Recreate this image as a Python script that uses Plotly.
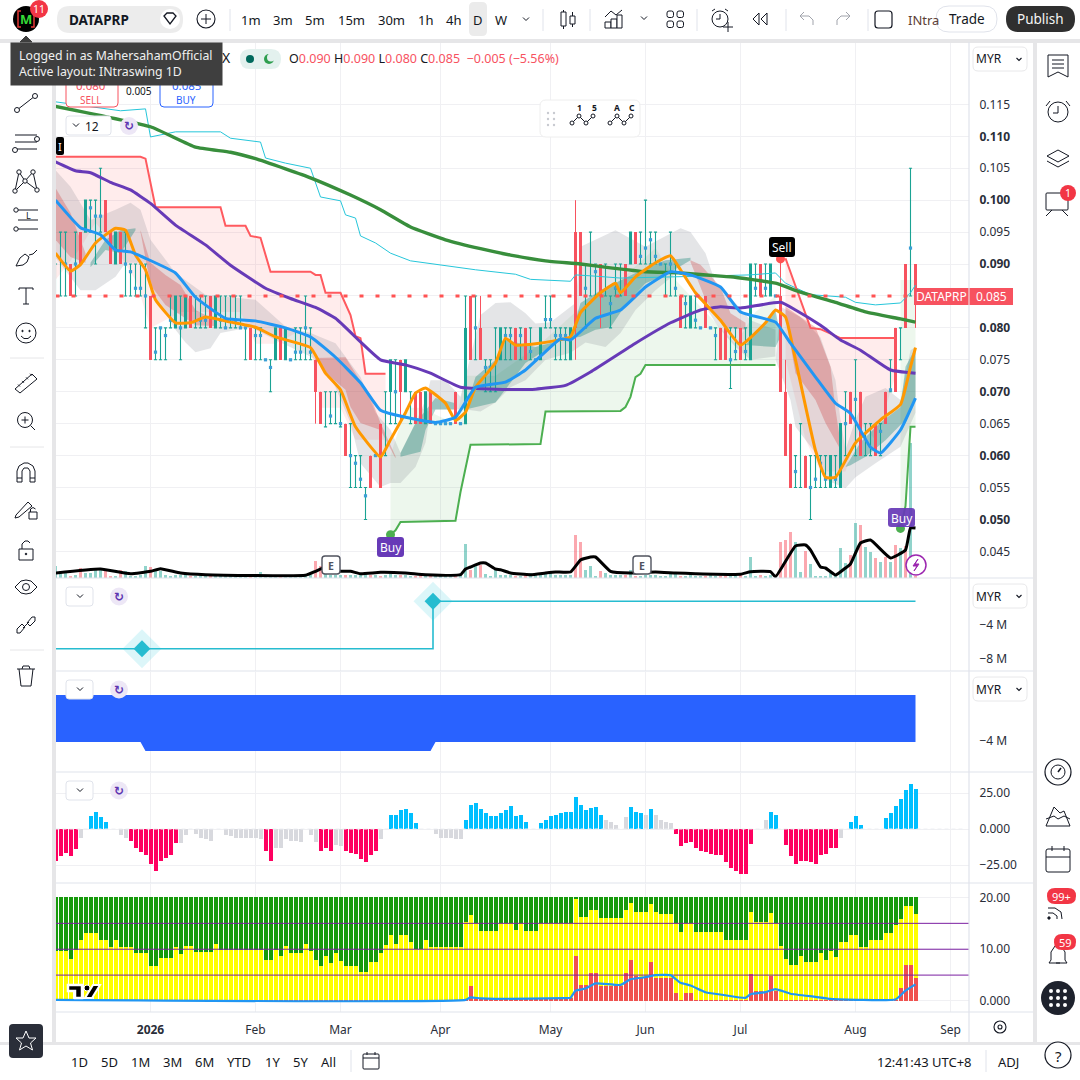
import plotly.graph_objects as go

# ---------- DATA (prices in 1/10000 MYR for the bars) ----------
bar_high = [900,950,950,900,950,950,1000,1000,1000,1050,1000,950,950,950,950,900,900,900,900,850,
800,800,800,850,850,850,850,850,850,850,850,850,850,850,850,850,850,850,800,800,
800,800,750,750,800,800,800,750,800,800,850,800,750,700,700,700,700,700,650,650,
600,600,550,600,600,650,700,750,750,750,750,700,700,700,700,700,650,650,650,650,
700,650,850,850,850,850,750,750,800,800,800,800,800,800,800,800,750,800,850,850,
800,800,800,800,1000,950,900,950,900,900,900,850,900,900,900,950,950,950,1000,950,
950,900,900,950,900,850,850,850,850,800,850,800,800,800,800,800,800,800,800,900,
900,900,900,900,850,915,750,650,600,650,600,600,600,600,600,600,600,650,700,700,
750,700,650,650,650,650,700,750,800,800,900,1050,900]
bar_low = [850,850,850,850,850,900,950,950,900,950,950,900,900,900,850,850,850,850,800,750,
750,750,750,800,800,750,800,800,800,800,800,800,800,800,800,800,800,800,750,750,
750,750,750,700,750,750,750,750,750,750,750,750,650,650,645,650,650,645,600,550,
550,550,500,550,600,550,600,650,650,650,700,650,650,650,650,650,650,650,650,650,
650,650,650,750,750,750,700,700,700,750,750,750,750,750,750,750,750,750,800,800,
750,750,750,750,750,850,800,850,850,800,850,800,850,850,850,900,900,900,900,900,
900,900,850,850,850,800,800,800,800,800,800,800,750,750,750,705,750,750,750,750,
850,850,850,850,850,700,600,550,550,550,550,500,550,550,550,550,550,550,600,650,
600,600,600,600,600,600,650,700,700,750,800,850,800]
N = None
bar_open = [N,N,900,900,900,950,950,988,975,975,1000,950,900,950,900,888,862,862,850,850,
762,800,788,812,800,800,800,850,N,812,812,850,800,812,800,N,812,800,800,800,
788,788,750,738,750,800,750,750,762,762,800,762,750,700,N,662,N,650,650,600,
588,563,537,600,600,650,N,700,700,750,700,N,700,700,650,700,650,650,650,650,
700,650,650,850,800,800,738,738,N,750,788,788,800,788,800,763,750,750,813,813,
788,788,788,750,950,950,862,N,888,900,N,838,862,N,900,900,950,912,925,938,
912,900,N,900,862,850,838,800,812,800,850,800,788,800,800,750,763,800,763,750,
862,900,862,850,850,850,700,650,575,N,600,550,563,588,563,550,563,550,650,700,
688,700,N,N,650,638,700,703,800,N,900,925,900]
bar_close = [N,N,900,850,900,900,1000,988,975,975,950,900,950,900,900,888,862,862,850,750,
762,800,788,812,850,800,850,800,N,812,812,800,850,812,800,N,812,800,800,750,
788,788,750,738,800,750,800,750,762,762,800,762,700,650,N,662,N,650,600,600,
588,563,537,550,600,550,N,750,700,700,750,N,650,650,700,650,650,650,650,650,
650,650,800,750,800,750,738,738,N,800,788,788,750,788,750,763,750,800,813,813,
788,788,788,800,800,850,862,N,888,850,N,838,862,N,850,950,900,912,925,938,
912,900,N,900,862,800,838,850,812,800,800,800,788,750,750,750,763,750,763,900,
862,850,862,900,850,700,600,550,575,N,550,550,563,588,563,600,563,650,650,650,
688,600,N,N,600,638,650,703,700,N,800,925,850]
volume = [12,7,5,2,3,10,5,5,8,10,7,2,2,8,7,2,2,3,12,11,9,7,3,2,3,3,3,2,2,2,2,2,2,2,2,2,2,2,3,2,
2,6,2,3,2,2,2,3,2,2,2,3,17,12,7,3,3,3,3,3,3,3,4,3,3,2,3,4,3,3,3,2,2,3,2,2,2,2,2,2,
2,2,34,8,12,13,4,2,8,3,3,3,2,2,3,5,3,3,5,5,3,3,3,3,43,36,8,12,2,7,5,3,3,3,3,8,2,2,3,3,
3,2,2,5,5,2,2,3,2,2,2,3,2,2,2,2,3,3,2,21,2,3,2,3,2,36,38,46,36,6,27,14,2,2,2,5,3,30,15,23,
55,53,31,26,20,16,21,16,33,30,32,135,2]
vol_ma_bar = [0,9,15,19,21,25,30,50,52,54,57,59,61,65,70,74,81,82,83,85,86,88,89,91,95,98,100,103,105,107,108,111,115,120,124,128,137,139,143,144,148,150,151,153,154,156,158,159,161,163,167,170,171,172]
vol_ma = [5,9,4.3,6.7,9.3,5,3.3,2.7,6.7,11,6.7,6.7,4.3,5.7,5,3.3,3.3,9,11,15,15,9,8.3,5,3.3,5,6,6,18,21,21,6.7,5,6,5,4.3,3.7,6.3,6.3,1.3,32,33,28,11,10,3,10,14,35,38,20,28,50,50]

ma_long_bar = [0,19,28,35,40,46,51,59,65,71,78,85,91,98,105,111,118,125,133,135,144,149,156,162,169,172]
ma_long = [.1147,.1115,.1083,.1075,.1065,.1049,.1035,.1008,.0985,.0958,.0938,.0924,.0914,.0905,.0900,.0894,.0888,.0886,.0881,.0880,.0870,.0856,.0840,.0825,.0814,.0809]
ma_mid_bar = [0,4,7,11,15,19,24,30,35,42,47,52,56,61,65,70,75,81,88,96,102,107,116,123,129,133,137,145,148,153,157,161,167,172]
ma_mid = [.1060,.1046,.1043,.1028,.1016,.0995,.0961,.0930,.0898,.0862,.0846,.0832,.0815,.0778,.0750,.0742,.0729,.0707,.0704,.0704,.0710,.0731,.0776,.0808,.0828,.0833,.0831,.0840,.0828,.0804,.0781,.0765,.0734,.0729]
ma_short_bar = [0,5,9,12,15,18,24,28,34,40,46,51,56,61,65,70,76,80,84,90,94,101,103,108,113,118,123,127,133,137,144,147,152,156,159,163,165,169,172]
ma_short = [.1000,.0957,.0946,.0922,.0919,.0909,.0886,.0848,.0815,.0811,.0800,.0786,.0754,.0714,.0671,.0660,.0652,.0660,.0707,.0715,.0734,.0783,.0781,.0815,.0828,.0864,.0888,.0883,.0864,.0825,.0809,.0776,.0723,.0682,.0666,.0613,.0604,.0640,.0690]
ma_fast_bar = [0,3,5,8,12,14,16,18,20,24,27,30,35,40,44,51,54,57,60,65,67,70,72,74,78,80,82,84,88,90,92,96,100,103,105,109,112,113,116,120,123,125,128,133,137,142,144,146,148,152,154,156,160,165,169,171,172]
ma_fast = [.0917,.0889,.0899,.0933,.0956,.0953,.0914,.0891,.0844,.0808,.0808,.0817,.0809,.0801,.0786,.0769,.0729,.0703,.0645,.0598,.0625,.0667,.0698,.0706,.0682,.0655,.0668,.0707,.0745,.0784,.0773,.0775,.0780,.0786,.0824,.0855,.0870,.0855,.0880,.0902,.0913,.0891,.0855,.0812,.0773,.0808,.0828,.0817,.0750,.0608,.0566,.0566,.0620,.0656,.0680,.0739,.0769]
thin_bar = [0,13,18,19,24,33,35,41,42,46,51,53,57,58,60,61,64,67,71,78,84,92,95,103,104,108,113,124,139,144,146,151,158,160,164,169,171,172]
thin = [.1154,.1140,.1143,.1099,.1107,.1107,.1097,.1091,.1066,.1058,.1050,.1005,.0999,.0977,.0972,.0944,.0933,.0917,.0905,.0897,.0891,.0884,.0876,.0873,.0883,.0881,.0878,.0880,.0883,.0886,.0870,.0852,.0848,.0840,.0836,.0839,.0855,.0867]

stop_a_bar = [0,17,18,20,33,34,38,39,41,43,51,52,53,54,57,59,60,61,62,66]
stop_a = [.1068,.1068,.1065,.0989,.0989,.0960,.0960,.0944,.0941,.0888,.0888,.0883,.0883,.0855,.0855,.0820,.0787,.0784,.0728,.0728]
stop_a_base_bar = [0,5,8,12,16,19,25,37,40,44,50,51,53,57,60,66]
stop_a_base = [.0875,.0925,.0965,.0925,.0875,.0800,.0825,.0825,.0775,.0775,.0800,.0775,.0675,.0675,.0625,.0625]
stop_b_bar = [146,151,153,157,168]
stop_b = [.0909,.0800,.0798,.0784,.0784]
stop_b_base_bar = [146,150,153,158,161,164,168]
stop_b_base = [.0750,.0625,.0575,.0575,.0650,.0625,.0725]
trail_a_bar = [67,68,69,80,81,83,97,98,113,114,115,116,117,118,144]
trail_a = [.0476,.0483,.0496,.0498,.0543,.0617,.0618,.0669,.0670,.0676,.0692,.0723,.0728,.0742,.0742]
trail_a_top_bar = [67,70,73,80,82,88,97,104,109,113,120,124,130,136,140,144]
trail_a_top = [.0600,.0675,.0675,.0650,.0725,.0725,.0775,.0825,.0850,.0875,.0925,.0875,.0825,.0775,.0825,.0850]
trail_b_bar = [169,170,171,172]
trail_b = [.0486,.0521,.0645,.0645]
trail_b_top = [.0875,.0875,.0875,.0875]

haze_a_up_bar = [0,3,7,12,15,17,19,24,30,40,46,51,56,61,64,67,69,72,74,75,78,81,82,85,88,91,94,96,99,104,105,112,118,125,127,130,132,136,139,144]
haze_a_up = [.1047,.1021,.0969,.0985,.0996,.0985,.0938,.0886,.0852,.0844,.0802,.0792,.0776,.0723,.0667,.0640,.0604,.0651,.0687,.0718,.0718,.0692,.0723,.0820,.0839,.0840,.0823,.0807,.0809,.0839,.0927,.0953,.0927,.0956,.0950,.0917,.0870,.0839,.0812,.0797]
haze_a_lo_bar = [0,3,5,8,12,14,18,20,24,26,28,31,33,39,45,51,53,56,59,61,65,67,69,72,74,75,82,85,88,91,94,98,103,106,110,113,116,120,125,128,132,133,136,139,144]
haze_a_lo = [.0910,.0880,.0859,.0859,.0880,.0902,.0902,.0848,.0797,.0777,.0762,.0768,.0792,.0801,.0777,.0755,.0745,.0707,.0651,.0588,.0551,.0557,.0557,.0582,.0620,.0672,.0672,.0669,.0683,.0707,.0718,.0750,.0761,.0777,.0770,.0792,.0828,.0859,.0891,.0859,.0808,.0797,.0770,.0750,.0755]
haze_b_up_bar = [145,149,153,156,157,158,160,162,166,169,171,172]
haze_b_up = [.0833,.0817,.0785,.0718,.0656,.0609,.0656,.0692,.0706,.0687,.0765,.0770]
haze_b_lo_bar = [144,147,148,152,154,158,160,164,169,172]
haze_b_lo = [.0750,.0687,.0645,.0604,.0562,.0549,.0566,.0588,.0614,.0667]

bear_bands = [
 ([0,3,6],[.1019,.0980,.0917],[0,3,6],[.0938,.0911,.0902]),
 ([17,19,22,25,28,32],[.0953,.0902,.0883,.0867,.0828,.0812],[17,19,22,25,28,32],[.0950,.0867,.0836,.0820,.0804,.0803]),
 ([52,58,60,63,65,68],[.0753,.0754,.0729,.0692,.0651,.0599],[52,55,58,59,61,65,68],[.0750,.0723,.0703,.0676,.0651,.0640,.0596]),
 ([127,129,133,135,138],[.0906,.0899,.0864,.0823,.0808],[127,130,134,138],[.0903,.0844,.0801,.0797]),
 ([146,152,155,156,157],[.0833,.0801,.0739,.0672,.0620],[146,148,152,154,157],[.0817,.0729,.0687,.0651,.0609]),
]
bull_bands = [
 ([7,10,13,16],[.0902,.0938,.0953,.0956],[7,10,13,16],[.0895,.0922,.0917,.0953]),
 ([69,72,76,80],[.0604,.0651,.0690,.0682],[69,73,74,76,80],[.0598,.0606,.0640,.0672,.0672]),
 ([82,84,88,90,96,103,105,109,116,122,127],[.0672,.0723,.0750,.0781,.0770,.0784,.0839,.0859,.0886,.0906,.0910],
  [82,88,91,94,101,105,108,111,114,118,122,127],[.0672,.0683,.0714,.0745,.0781,.0786,.0797,.0801,.0836,.0870,.0883,.0906]),
 ([138,142,144],[.0773,.0808,.0828],[138,140,144,145],[.0773,.0772,.0770,.0786]),
 ([158,161,165,169,170,172],[.0582,.0621,.0652,.0676,.0739,.0769],[159,162,166,170,172],[.0585,.0598,.0624,.0656,.0692]),
]

flow_bar = [0,75.5,172]
flow = [-6.8,-1.2,-1.2]
flow_marker_bar = [17.3,75.5]
flow_marker = [-6.8,-1.2]
ribbon_bar = [0,17,18,75,76,172]
ribbon_top = [1.41,1.41,1.41,1.41,1.41,1.41]
ribbon_bottom = [-4.12,-4.12,-5.18,-5.18,-4.12,-4.12]

momentum = [-22,-19,-17,-19,-14,-6,0,9,12,8,5,0,0,-4,-6.5,-8,-13,-16,-18,-24.5,
-29,-22,-20,-18,-10,-10,-4.5,0,-3.7,-6,-7,-8,0,0,-4.4,-5,-6,-6.5,-6.5,-6.5,
-6.5,-7,-15.5,-22,-13,-13.5,-7,-8.5,-8.5,-9,0,-4.4,-9,-15,-13,-15,-11,-12,-15,-17,
-17.5,-21,-23,-18,-15,-7,0,10,10,13,14,11,4,0,0,0,-3.7,-6,-6,-6.5,
-7,-7,6.5,17,18,14,11,9,9,11,13,16,9,9.5,4.6,0,0,4,6.5,9,
10,11,11.5,11.5,22,17,13.5,14.5,15,10,6.5,4.6,3,0,8,15,12,11,9.5,13.7,
9.5,6.5,5,4,-3.7,-12,-10,-9,-13,-15,-16,-17.5,-18,-18,-23,-27,-29.4,-31,-31.5,-10.6,
0,0,6,11.5,9.5,0,-11,-19,-24,-22,-22.5,-23,-24,-18,-17.5,-13,-13,-6,0,4.6,
9,3,0,0,0,0,7.4,11,16,21,27,31,27.5]
momentum_muted_bars = [5,13,14,25,26,28,29,30,31,34,35,36,37,38,39,40,41,44,45,46,47,48,49,51,52,56,57,65,76,77,78,79,80,81,110,111,112,114,118,120,121,122,123,142,157]

strength_mid = [9.6,9.6,9.6,8.2,9.9,11.7,13.2,13.2,13.2,11.7,11.7,10.4,11.8,10.5,10.5,10.5,9.2,9.2,9.2,6.7,
6.7,8.4,8.4,8.4,10.4,9,10.7,10.7,9.4,9.4,9.4,9.4,11.1,9.8,9.8,9.8,9.8,9.8,9.8,9.8,
9.8,9.8,8,8,9.9,8.6,10.7,9.2,9.2,9.2,11.1,9.6,8,6.7,8.6,7.3,9.2,7.8,6.7,6.7,
6.7,5.6,5.6,7.5,7.5,9.2,10.9,12.7,11.1,12.7,12.7,11.3,10,10,11.7,10.4,10.4,10.4,10.4,10.4,
10.4,10.4,15.3,16.6,15,13.5,13.5,13.5,13.5,15,15,15,13.7,15,13.5,13.5,13.5,15,15,15,
15,15,15,15,19.7,16.3,16.3,17.6,17.6,16,16,16,16,16,17.6,18.9,17.2,17.2,17.2,18.7,
17.2,16.8,16.8,16.8,15,13.4,15,15,13.4,13.4,13.4,13.4,13.4,13.4,11.7,11.7,11.7,11.7,11.7,17.2,
15.2,15.2,15.2,17,15,10.6,8.1,7,7,8.7,7.5,7.5,7.5,9.2,7.9,9.6,8.5,11.3,11.3,12.8,
12.8,10.4,10.4,11.7,11.7,11.7,13.2,13.2,14.6,15.9,18.4,18.4,16.8]
strength_low = [.15]*83 + [2.9] + [.3]*13 + [.5]*7 + [8.7,3,3,5.4,5.4,2.8,2.8,2.8,2.8,2.8,5.4,7.9,4.9,4.7,4.7,7.5,4.5,4.5,4.5,4.5,1.6,.1,1.6,1.6] + [.15]*11 + [5.2,2,2,2,4.9,2] + [.15]*24 + [2.6,7,7,4.5]
strength_cap = [20]*173
strength_line_bar = [0,82,83,85,88,102,103,104,106,108,113,115,118,120,123,125,127,130,134,138,139,142,144,147,152,155,168,170,172]
strength_line = [.2,.2,.7,.5,.4,.55,.6,2,2.4,3.4,3.1,4.2,4.6,5,5,3.5,3,1.7,1.1,.6,1.3,1.7,2.3,1.4,.8,.4,.3,2,3.2]
strength_levels = [5,10,15]

month_bars = [19,40,57,77,99,118,137,160,179]
month_labels = ["<b>2026</b>","Feb","Mar","Apr","May","Jun","Jul","Aug","Sep"]
price_ticks = [.045,.05,.055,.06,.065,.07,.075,.08,.085,.09,.095,.10,.105,.11,.115]
price_labels = ["0.045","<b>0.050</b>","0.055","<b>0.060</b>","0.065","<b>0.070</b>","0.075","<b>0.080</b>","","<b>0.090</b>","0.095","<b>0.100</b>","0.105","<b>0.110</b>","0.115"]
last_price = 0.085

# ---------- STYLE ----------
W = 1080
TEAL, RED = "#1aa393", "#f7525f"
DARK, UI = "#131722", "Noto Sans, Open Sans, sans-serif"
SEP, GRID = "#e6e6e8", "#f0f0f3"
ALL = list(range(len(bar_high)))
PR = 1e-4

fig = go.Figure()
def add_line(x, y, axis, color, w, spline=True, **kw):
    fig.add_trace(go.Scatter(x=x, y=y, yaxis=axis, mode="lines", hoverinfo="skip",
        line=dict(color=color, width=w, shape="spline" if spline else "linear", smoothing=0.4), **kw))
def add_band(xu, yu, xl, yl, color, axis="y"):
    fig.add_trace(go.Scatter(x=list(xu)+list(xl)[::-1], y=list(yu)+list(yl)[::-1], yaxis=axis, mode="lines",
        fill="toself", fillcolor=color, line=dict(width=0), hoverinfo="skip"))

# volume (main axis bars draw beneath the fills because bars sit below scatter in one subplot)
is_down = [o is not None and c is not None and o > c for o, c in zip(bar_open, bar_close)]
fig.add_trace(go.Bar(x=ALL, y=[v * 1e-4 * 1.566 for v in volume], base=.04083, yaxis="y", width=.72, hoverinfo="skip",
    marker=dict(color=["rgba(247,82,95,.5)" if d else "rgba(26,163,147,.48)" for d in is_down], line=dict(width=0))))

# fills (main axis)
add_band(stop_a_bar, stop_a, stop_a_base_bar, stop_a_base, "rgba(255,82,82,.11)")
add_band(stop_b_bar, stop_b, stop_b_base_bar, stop_b_base, "rgba(255,82,82,.11)")
add_band(trail_a_bar, trail_a, trail_a_top_bar, trail_a_top, "rgba(76,175,80,.1)")
add_band(trail_b_bar, trail_b, trail_b_bar, trail_b_top, "rgba(76,175,80,.1)")
add_band(haze_a_up_bar, haze_a_up, haze_a_lo_bar, haze_a_lo, "rgba(120,123,134,.2)")
add_band(haze_b_up_bar, haze_b_up, haze_b_lo_bar, haze_b_lo, "rgba(120,123,134,.2)")
for b in bear_bands:
    add_band(*b, "rgba(205,60,60,.3)")
for b in bull_bands:
    add_band(*b, "rgba(0,120,105,.32)")

# candles (overlay y8)
up = [i for i in ALL if not is_down[i]]
dn = [i for i in ALL if is_down[i]]
fig.add_trace(go.Scatter(x=up, y=[(bar_high[i]+bar_low[i])/2*PR for i in up], yaxis="y8", mode="markers",
    marker=dict(size=1, opacity=0), hoverinfo="skip",
    error_y=dict(type="data", array=[(bar_high[i]-bar_low[i])/2*PR for i in up], color=TEAL, thickness=1.1, width=1.6)))
fig.add_trace(go.Scatter(x=dn, y=[(bar_high[i]+bar_low[i])/2*PR for i in dn], yaxis="y8", mode="markers",
    marker=dict(size=1, opacity=0), hoverinfo="skip",
    error_y=dict(type="data", array=[(bar_high[i]-bar_low[i])/2*PR for i in dn], color=RED, thickness=1, width=0)))
fig.add_trace(go.Bar(x=dn, base=[bar_close[i]*PR for i in dn], y=[(bar_open[i]-bar_close[i])*PR for i in dn],
    yaxis="y8", width=.62, marker=dict(color=RED, line=dict(width=0)), hoverinfo="skip"))
solid = [i for i in up if bar_open[i] is not None and bar_close[i] > bar_open[i]]
fig.add_trace(go.Bar(x=solid, base=[bar_open[i]*PR for i in solid], y=[(bar_close[i]-bar_open[i])*PR for i in solid],
    yaxis="y8", width=.5, marker=dict(color=TEAL, line=dict(width=0)), hoverinfo="skip"))
dots = [i for i in up if bar_open[i] is not None and bar_close[i] == bar_open[i]]
fig.add_trace(go.Scatter(x=dots, y=[bar_close[i]*PR for i in dots], yaxis="y8", mode="markers", hoverinfo="skip",
    marker=dict(symbol="square", size=3.2, color="#3b9fd6")))

# lines (overlay y9)
add_line(thin_bar, thin, "y9", "#26c6da", 1, spline=False)
add_line(stop_a_bar, stop_a, "y9", "#ff5a5f", 2, spline=False)
add_line(stop_b_bar, stop_b, "y9", "#ff5a5f", 2, spline=False)
add_line(trail_a_bar, trail_a, "y9", "#4caf50", 2, spline=False)
add_line(trail_b_bar, trail_b, "y9", "#4caf50", 2, spline=False)
add_line(ma_long_bar, ma_long, "y9", "#388e3c", 3.4)
add_line(ma_mid_bar, ma_mid, "y9", "#673ab7", 3)
add_line(ma_fast_bar, ma_fast, "y9", "#ff9800", 3)
add_line(ma_short_bar, ma_short, "y9", "#2196f3", 3)
fig.add_trace(go.Scatter(x=[0, 172], y=[last_price, last_price], yaxis="y9", mode="lines", hoverinfo="skip",
    line=dict(color="#ff5252", width=3, dash="4px,12px")))
fig.add_trace(go.Scatter(x=[67, 169, 145], y=[.0476, .0486, .0908], yaxis="y9", mode="markers", hoverinfo="skip",
    marker=dict(size=9, color=["#4caf50", "#4caf50", "#ff5252"])))
add_line(vol_ma_bar, vol_ma, "y10", "#000000", 3)

# pane 2
add_line(flow_bar, flow, "y2", "#26bcd0", 1.6, spline=False)
fig.data[-1].line.shape = "hv"
fig.add_trace(go.Scatter(x=flow_marker_bar, y=flow_marker, yaxis="y2", mode="markers", hoverinfo="skip",
    marker=dict(symbol="diamond", size=30, color="rgba(38,198,218,.16)")))
fig.add_trace(go.Scatter(x=flow_marker_bar, y=flow_marker, yaxis="y2", mode="markers", hoverinfo="skip",
    marker=dict(symbol="diamond", size=13, color="#26bcd0")))

# pane 3
fig.add_trace(go.Scatter(x=ribbon_bar, y=ribbon_bottom, yaxis="y3", mode="lines", line=dict(width=0, color="#2962ff"), hoverinfo="skip"))
fig.add_trace(go.Scatter(x=ribbon_bar, y=ribbon_top, yaxis="y3", mode="lines", fill="tonexty", fillcolor="#2962ff", line=dict(width=0, color="#2962ff"), hoverinfo="skip"))

# pane 4
def mom_color(i, v):
    if i in momentum_muted_bars:
        return "#d8d9de"
    return "#00bfff" if v > 0 else "#ff0060"
fig.add_trace(go.Scatter(x=[0, 182], y=[0, 0], yaxis="y4", mode="lines", line=dict(color="#eceef2", width=1, dash="4px,3px"), hoverinfo="skip"))
fig.add_trace(go.Bar(x=ALL, y=momentum, yaxis="y4", width=.8, hoverinfo="skip",
    marker=dict(color=[mom_color(i, v) for i, v in enumerate(momentum)], line=dict(width=0))))

# pane 5
fig.add_trace(go.Bar(x=ALL, y=strength_cap, yaxis="y5", width=.8, marker=dict(color="#169a0b", line=dict(width=0)), hoverinfo="skip"))
fig.add_trace(go.Bar(x=ALL, y=strength_mid, yaxis="y5", width=.8, marker=dict(color="#ffff00", line=dict(width=0)), hoverinfo="skip"))
fig.add_trace(go.Bar(x=ALL, y=strength_low, yaxis="y5", width=.8, marker=dict(color="#f0524f", line=dict(width=0)), hoverinfo="skip"))
for lv in strength_levels:
    fig.add_trace(go.Scatter(x=[0, 183], y=[lv, lv], yaxis="y5", mode="lines", line=dict(color="#7b1fa2", width=1), hoverinfo="skip"))
add_line(strength_line_bar, strength_line, "y5", "#2196f3", 2.2)

# assign x axes per pane
for tr in fig.data:
    ya = tr.yaxis
    if ya in ("y2", "y3", "y4", "y5"):
        tr.xaxis = "x" + ya[1:]

# ---------- AXES ----------
def dom(top, bot):
    return [1 - bot / W, 1 - top / W]
XR = [.1, 182.7]
xcommon = dict(range=XR, domain=[56 / W, 969 / W], showgrid=True, gridcolor=GRID, gridwidth=1, zeroline=False,
    tickmode="array", tickvals=month_bars, ticktext=month_labels, showline=False)
def yax(top, bot, rng, vals=None, text=None, grid=True, anchor="x"):
    d = dict(domain=dom(top, bot), range=rng, side="right", anchor=anchor, zeroline=False, showline=False, fixedrange=True,
        showgrid=grid, gridcolor=GRID, gridwidth=1, ticks="outside" if vals else "", ticklen=7, tickcolor="rgba(0,0,0,0)",
        tickfont=dict(family=UI, size=12, color="#2a2e39"), tickmode="array", tickvals=vals or [], ticktext=text or [])
    return d
price_rng = [.04083, .12477]
def ovl(rng):
    return dict(domain=dom(42, 578), range=rng, overlaying="y", anchor="x", side="right", visible=False, fixedrange=True)
layout = dict(
    width=W, height=W, margin=dict(l=0, r=0, t=0, b=0, pad=0), autosize=False,
    paper_bgcolor="white", plot_bgcolor="white", showlegend=False, barmode="overlay", bargap=0,
    font=dict(family=UI, color=DARK), hovermode=False,
    xaxis=dict(xcommon, anchor="y", showticklabels=False, ticks=""),
    xaxis2=dict(xcommon, anchor="y2", matches="x", showticklabels=False, ticks=""),
    xaxis3=dict(xcommon, anchor="y3", matches="x", showticklabels=False, ticks=""),
    xaxis4=dict(xcommon, anchor="y4", matches="x", showticklabels=False, ticks=""),
    xaxis5=dict(xcommon, anchor="y5", matches="x", showticklabels=True, ticks="outside", ticklen=7, tickcolor="rgba(0,0,0,0)",
                tickfont=dict(family=UI, size=12, color="#2a2e39")),
    yaxis=yax(42, 578, price_rng, price_ticks, price_labels),
    yaxis2=yax(579, 671, [-9.41, 1.41], [-4, -8], ["−4 M", "−8 M"], grid=False, anchor="x2"),
    yaxis3=yax(672, 772, [-7.65, 4.12], [-4], ["−4 M"], grid=False, anchor="x3"),
    yaxis4=yax(773, 883, [-37.5, 38.9], [25, 0, -25], ["25.00", "0.000", "−25.00"], anchor="x4"),
    yaxis5=yax(884, 1012, [-2.13, 22.6], [20, 10, 0], ["20.00", "10.00", "0.000"], anchor="x5"),
    yaxis8=ovl(price_rng), yaxis9=ovl(price_rng), yaxis10=ovl([0, 536]),
)

# ---------- UI CHROME (screen furniture, placed in page pixels) ----------
shapes, notes = [], []
def X(v): return v / W
def Y(v): return 1 - v / W
def rect(x0, y0, x1, y1, fill="white", line=None, r=0, lw=1):
    a, b, c, d = X(x0), Y(y0), X(x1), Y(y1)
    rx, ry = X(r), r / W
    p = (f"M{a+rx},{b} L{c-rx},{b} Q{c},{b} {c},{b-ry} L{c},{d+ry} Q{c},{d} {c-rx},{d} "
         f"L{a+rx},{d} Q{a},{d} {a},{d+ry} L{a},{b-ry} Q{a},{b} {a+rx},{b} Z")
    shapes.append(dict(type="path", xref="paper", yref="paper", path=p, fillcolor=fill,
                       line=dict(color=line or "rgba(0,0,0,0)", width=lw if line else 0), layer="above"))
def poly(pts, color=DARK, w=1, close=False, fill="rgba(0,0,0,0)"):
    p = "M" + " L".join(f"{X(a)},{Y(b)}" for a, b in pts) + (" Z" if close else "")
    shapes.append(dict(type="path", xref="paper", yref="paper", path=p, fillcolor=fill, line=dict(color=color, width=w), layer="above"))
def rel(cx, cy, pts, **kw):
    poly([(cx + a, cy + b) for a, b in pts], **kw)
def circ(cx, cy, r, fill="white", line=DARK, lw=1):
    shapes.append(dict(type="circle", xref="paper", yref="paper", x0=X(cx - r), x1=X(cx + r), y0=Y(cy + r), y1=Y(cy - r),
                       fillcolor=fill, line=dict(color=line or "rgba(0,0,0,0)", width=lw if line else 0), layer="above"))
def text(x, y, s, size=13, color=DARK, anchor="center", **kw):
    notes.append(dict(xref="paper", yref="paper", x=X(x), y=Y(y), text=s, showarrow=False, xanchor=anchor, yanchor="middle",
                      font=dict(family=kw.pop("family", UI), size=size, color=color), borderpad=0, **kw))

# frame
rect(0, 0, 1080, 39, fill="white")
rect(0, 39, 1080, 43, fill=SEP)
rect(0, 43, 52, 1042, fill="white")
rect(52, 40, 56, 1042, fill=SEP)
rect(1033, 40, 1037, 1042, fill=SEP)
rect(1037, 43, 1080, 1080, fill="white")
rect(0, 1042, 1080, 1045, fill=SEP)
rect(0, 1045, 1037, 1080, fill="white")
for yy in (578, 671, 772, 883, 1012):
    poly([(56, yy), (1033, yy)], color="#e0e3eb", w=1.2)
poly([(969, 42), (969, 1042)], color="#e0e3eb", w=1.2)

# top bar
circ(26, 19, 13, fill="black", line=None)
text(26, 19, "<b>M</b>", size=13, color="#36d936")
rel(26, 19, [(-5, -8), (-8, -8), (-8, 8), (-5, 8)], color="#e53935", w=1.5)
rel(26, 19, [(5, -8), (8, -8), (8, 8), (5, 8)], color="#e53935", w=1.5)
circ(39, 9, 9, fill="#f23645", line=None)
text(39, 9, "11", size=10.5, color="white")
rect(57, 6, 183, 33, fill="#ececec", r=13)
text(68, 19.5, "<b>DATAPRP</b>", size=13.5, anchor="left")
circ(170, 19, 10, fill="white", line=None)
rel(170, 19, [(-6, -3), (-3, -6), (3, -6), (6, -3), (0, 5)], close=True, w=1.3)
circ(206, 19, 9, fill="white", lw=1.1)
rel(206, 19, [(-5, 0), (5, 0)]); rel(206, 19, [(0, -5), (0, 5)])
for sx in (230, 543, 590, 697, 786, 868):
    poly([(sx, 9), (sx, 31)], color="#e0e3eb")
rect(469, 2, 487, 36, fill="#ebebeb", r=5)
for lab, lx in [("1m", 251), ("3m", 283), ("5m", 315), ("15m", 351), ("30m", 391), ("1h", 425), ("4h", 453), ("D", 478), ("W", 501)]:
    text(lx, 20, lab, size=13)
rel(526, 19, [(-3, -1.5), (0, 1.5), (3, -1.5)])
rect(561, 12, 566, 26, fill="white", line=DARK); rel(563.5, 19, [(0, -9), (0, -7)]); rel(563.5, 19, [(0, 7), (0, 10)])
rect(570, 16, 575, 24, fill="white", line=DARK); rel(572.5, 20, [(0, -8), (0, -4)]); rel(572.5, 20, [(0, 4), (0, 7)])
rect(605, 22, 611, 28, fill="white", line=DARK); rect(611, 19, 617, 28, fill="white", line=DARK); rect(617, 15, 622, 28, fill="white", line=DARK)
poly([(605, 17), (611, 11), (616, 15), (622, 10)])
rel(644, 18, [(-3, -1.5), (0, 1.5), (3, -1.5)])
for ax, ay in [(667, 11), (677, 11), (667, 21), (677, 21)]:
    rect(ax, ay, ax + 6.5, ay + 6.5, fill="white", line=DARK, r=2)
circ(720, 19, 8, fill="white")
rel(720, 19, [(0, -5), (0, 0), (-4, 0)])
rel(720, 19, [(-8, -8), (-5, -10)]); rel(720, 19, [(8, -8), (5, -10)])
rel(728, 27, [(-5, 0), (5, 0)]); rel(728, 27, [(0, -5), (0, 5)])
rel(761, 19, [(-2, -6), (-8, 0), (-2, 6)], close=True); rel(761, 19, [(6, -6), (0, 0), (6, 6)], close=True)
rel(806, 19, [(-6, -3), (-2, -7)], color="#a0a3ab"); rel(806, 19, [(-6, -3), (-2, 1)], color="#a0a3ab"); rel(806, 19, [(-6, -3), (3, -3), (7, 1), (7, 6)], color="#a0a3ab")
rel(844, 19, [(6, -3), (2, -7)], color="#a0a3ab"); rel(844, 19, [(6, -3), (2, 1)], color="#a0a3ab"); rel(844, 19, [(6, -3), (-3, -3), (-7, 1), (-7, 6)], color="#a0a3ab")
rect(875, 11, 892, 28, fill="white", line=DARK, r=3, lw=1.2)
text(907, 20, "INtra", size=13, anchor="left", color="#5d4037")
rect(936, 6, 997, 32, fill="white", r=13, line="#e0e3eb")
text(967, 19, "Trade", size=13.5)
rect(1006, 6, 1075, 32, fill="#2f2f2f", r=13)
text(1040, 19, "Publish", size=13.5, color="#f5f5f5")

# legend row
text(226, 58, "X", size=14, color="#131722")
rect(240, 49, 281, 69, fill="#e3f1ee", r=10)
circ(250, 59, 4, fill="#00695c", line=None)
circ(269, 59, 5, fill="#2e9e4f", line=None); circ(271, 57.5, 4, fill="#e3f1ee", line=None)
o_col = "#f7525f"
legend = f"O<span style='color:{o_col}'>0.090</span> H<span style='color:{o_col}'>0.090</span> L<span style='color:{o_col}'>0.080</span> C<span style='color:{o_col}'>0.085</span> <span style='color:{o_col}'> −0.005 (−5.56%)</span>"
text(288, 58.5, legend, size=12.5, anchor="left")
rect(66, 74, 118, 107, fill="white", line="#f7525f", r=4)
text(91, 85, "0.080", size=11.5, color="#f7525f")
text(91, 99.5, "SELL", size=10, color="#f7525f")
text(139, 91, "0.005", size=10, color="#131722")
rect(160, 74, 213, 107, fill="white", line="#2962ff", r=4)
text(186, 85, "0.085", size=11.5, color="#2962ff")
text(186, 99.5, "BUY", size=10, color="#2962ff")
rect(66, 116, 111, 135, fill="white", line="#e0e3eb", r=3)
rel(76, 125, [(-3, -1.5), (0, 1.5), (3, -1.5)])
text(92, 126, "12", size=12)
circ(129, 126, 9, fill="#ede7f6", line=None)
text(129, 126, "<b>↻</b>", size=12, color="#5e35b1", family="DejaVu Sans")
rect(56, 137, 64, 155, fill="black", r=2)
text(59.5, 146, "I", size=11, color="white")
rect(540, 100, 640, 137, fill="white", line="#eeeeee", r=6)
for gx in (548, 554):
    for gy in (113, 119, 125):
        circ(gx, gy, 1.2, fill="#c8cad0", line=None)
for ox, labs in ((572, ("1", "5")), (610, ("A", "C"))):
    pts = [(ox, 123), (ox + 7, 116), (ox + 14, 123), (ox + 21, 116)]
    poly(pts, w=1)
    for a, b in pts:
        circ(a, b, 2, fill="white", lw=1)
    text(ox + 7, 108, f"<b>{labs[0]}</b>", size=8.5)
    text(ox + 22, 108, f"<b>{labs[1]}</b>", size=8.5)

rel(26, 42, [(-6, 0), (0, -6), (6, 0)], close=True, color="#3f3f3f", fill="#3f3f3f")
tip_box = dict(xref="paper", yref="paper", x=X(10), y=Y(42), xanchor="left", yanchor="top", showarrow=False, width=211, height=42,
    bgcolor="#3f3f3f", borderpad=0, text=" ", font=dict(family=UI, size=11, color="#3f3f3f"))
tip_lines = [
    dict(xref="paper", yref="paper", x=X(18), y=Y(55), xanchor="left", yanchor="middle", showarrow=False, borderpad=0,
         text="Logged in as MahersahamOfficial", font=dict(family=UI, size=12.3, color="#f0f0f0")),
    dict(xref="paper", yref="paper", x=X(18), y=Y(72), xanchor="left", yanchor="middle", showarrow=False, borderpad=0,
         text="Active layout: INtraswing 1D", font=dict(family=UI, size=12.3, color="#f0f0f0")),
]

rect(769, 237, 795, 257, fill="black", r=3)
text(782, 247, "Sell", size=12, color="white")
rect(377, 537, 404, 557, fill="#673ab7", r=3)
text(390.5, 547, "Buy", size=12, color="white")
rect(888, 508, 915, 527, fill="rgba(103,58,183,.93)", r=3)
text(901.5, 518, "Buy", size=12, color="white")
for ex in (331, 642):
    rect(ex - 9, 556, ex + 9, 574, fill="white", line="#50535e", r=3, lw=1.4)
    text(ex, 565.5, "<b>E</b>", size=10.5, color="#50535e")
circ(916, 565, 10, fill="white", line="#9c27b0", lw=1.5)
rel(916, 565, [(2, -6), (-3, 1), (1, 1), (-2, 6), (3, -1), (-1, -1)], close=True, color="#9c27b0", fill="#9c27b0")
rect(914, 288, 968.5, 305, fill="#f7525f")
rect(969.5, 288, 1013, 305, fill="#f7525f")
text(941, 296.5, "DATAPRP", size=12, color="white")
text(991, 296.5, "0.085", size=12, color="white")

for top in (47, 584, 677):
    rect(973, top, 1027, top + 24, fill="white", line="#e8e8ea", r=5)
    text(989, top + 12, "MYR", size=12)
    rel(1019, top + 12, [(-2.5, -1), (0, 1.5), (2.5, -1)], w=1.1)
for top in (587, 680, 781):
    rect(66, top, 93, top + 19, fill="white", line="#e0e3eb", r=3)
    rel(80, top + 9, [(-3, -1.5), (0, 1.5), (3, -1.5)])
    circ(119, top + 9.5, 9, fill="#ede7f6", line=None)
    text(119, top + 9.5, "<b>↻</b>", size=12, color="#5e35b1", family="DejaVu Sans")

poly([(68, 985), (82, 985), (82, 998), (75, 998), (75, 991), (68, 991)], close=True, color="white", w=2.5, fill="black")
circ(87, 988, 3, fill="black", line="white", lw=1)
poly([(93, 985), (100, 985), (92, 998), (85, 998)], close=True, color="white", w=2, fill="black")

for ly in (358, 447, 650):
    poly([(10, ly), (44, ly)], color="#e6e6e8")
rel(26, 103, [(-9, 7), (9, -7)]); circ(17, 110, 2.5); circ(35, 96, 2.5)
for d in (-8, -1, 6):
    rel(26, 143, [(-11, d), (11, d)])
circ(37, 139, 2.5); circ(15, 150, 2.5)
net = [(-11, 10), (-7, -9), (-1, 0), (7, -9), (11, 9)]
rel(26, 181, net)
rel(26, 181, [(-11, 10), (-1, 0), (11, 9)])
for a, b in net:
    circ(26 + a, 181 + b, 2.2)
for d in (-9, 1, 10):
    rel(26, 219, [(-8, d), (12, d)])
text(28, 215, "L", size=9)
circ(16, 210, 2.2); circ(16, 229, 2.2)
rel(26, 257, [(-10, 9), (-6, 1), (-1, -3), (3, 0), (1, 5), (-3, 8), (-10, 9)])
rel(26, 257, [(3, -2), (7, -3), (11, -7)])
rel(26, 295, [(-7, -7), (7, -7)]); rel(26, 295, [(0, -7), (0, 9)]); rel(26, 295, [(-3, 9), (3, 9)]); rel(26, 295, [(-7, -7), (-7, -5)]); rel(26, 295, [(7, -7), (7, -5)])
circ(26, 333, 10)
circ(22.5, 331, .7, fill=DARK); circ(29.5, 331, .7, fill=DARK)
rel(26, 333, [(-5, 3), (-2, 5.5), (2, 5.5), (5, 3)])
rel(26, 384, [(-11, 5), (6, -10), (11, -5), (-6, 9)], close=True)
for t in (-5, -1, 3, 7):
    rel(26, 384, [(t - 1, -t * .9 - 2), (t - 3, -t * .9 - 4)], w=.8)
circ(25, 420, 7.5); rel(25, 420, [(-3.5, 0), (3.5, 0)]); rel(25, 420, [(0, -3.5), (0, 3.5)]); rel(25, 420, [(5.5, 5.5), (10, 10)])
rel(26, 473, [(-9, 9), (-9, -2), (-7, -7), (-2, -10), (2, -10), (7, -7), (9, -2), (9, 9), (4, 9), (4, -2), (2, -5), (-2, -5), (-4, -2), (-4, 9)], close=True)
rel(26, 473, [(-9, 5), (-4, 5)]); rel(26, 473, [(4, 5), (9, 5)])
rel(24, 509, [(-8, 6), (4, -7), (8, -3), (-5, 8), (-9, 9)], close=True)
rect(29, 512, 37, 519, fill="white", line=DARK); rel(33, 512, [(-2.5, 0), (-2.5, -3), (0, -4.5), (2.5, -3)])
rect(19, 549, 33, 560, fill="white", line=DARK); circ(26, 554, .8, fill=DARK); rel(26, 549, [(-4, 0), (-4, -5), (-1, -8), (2, -8), (4, -6)])
rel(26, 587, [(-11, 0), (-5, -6), (0, -7), (5, -6), (11, 0), (5, 6), (0, 7), (-5, 6)], close=True); circ(26, 587, 3.5)
rel(26, 625, [(-9, 4), (-4, -1), (-1, 2), (-6, 8), (-9, 8), (-9, 4)])
rel(26, 625, [(9, -4), (4, 1), (1, -2), (6, -8), (9, -8), (9, -4)])
rel(26, 625, [(-3, 3), (3, -3)])
rel(26, 676, [(-9, -7), (9, -7)]); rel(26, 676, [(-4, -7), (-3, -10), (3, -10), (4, -7)]); rel(26, 676, [(-7, -7), (-5, 10), (5, 10), (7, -7)])
rect(9, 1024, 43, 1058, fill="#2a2e39", r=4)
star = [(0, -10), (3, -3), (10, -3), (4.5, 2), (6.5, 9), (0, 5), (-6.5, 9), (-4.5, 2), (-10, -3), (-3, -3)]
rel(26, 1041, star, close=True, color="white")

rel(1058, 66, [(-10, -11), (10, -11), (10, 11), (0, 6), (-10, 11)], close=True)
for d in (-6, -2, 2):
    rel(1058, 66, [(-6, d), (6, d)])
circ(1058, 112, 10); rel(1058, 112, [(0, -6), (0, 1), (-5, 1)]); rel(1058, 112, [(-12, -6), (-8, -11)]); rel(1058, 112, [(12, -6), (8, -11)])
rel(1058, 156, [(-11, 0), (0, -6), (11, 0), (0, 6)], close=True); rel(1058, 156, [(-11, 5), (0, 11), (11, 5)])
rect(1046, 193, 1068, 210, fill="white", line=DARK, r=1)
rel(1046, 210, [(0, 6), (6, 0)]); rel(1068, 210, [(0, 6), (-6, 0)])
circ(1068, 193, 8, fill="#f23645", line=None); text(1068, 193, "1", size=10.5, color="white")
circ(1058, 772, 13, lw=1.2); circ(1058, 772, 7); rel(1058, 772, [(0, 0), (3, -4)], w=1.6)
rel(1058, 816, [(-12, 10), (-4, -9), (2, -3), (6, -5), (12, 10)], close=True); rel(1058, 816, [(-12, 3), (-4, 0), (0, 3), (6, 0), (12, 3)])
rect(1046, 849, 1070, 872, fill="white", line=DARK, r=2); poly([(1046, 857), (1070, 857)]); rel(1052, 849, [(0, -3), (0, 2)]); rel(1064, 849, [(0, -3), (0, 2)])
rel(1058, 910, [(-10, -2), (-3, -2), (3, 2), (4, 9)]); rel(1058, 910, [(-10, 3), (-5, 3), (-1, 6), (-1, 9)]); circ(1049, 918, 1.2, fill=DARK)
rect(1047, 888, 1076, 904, fill="#f23645", r=8); text(1061, 896, "99+", size=11, color="white")
rel(1058, 955, [(-9, 8), (-7, 5), (-7, -3), (-3, -9), (3, -9), (7, -3), (7, 5), (9, 8)], close=True); rel(1058, 955, [(-2, 8), (2, 8)])
rect(1054, 934, 1076, 950, fill="#f23645", r=8); text(1065, 942, "59", size=11, color="white")
circ(1058, 998, 17, fill="#1e222d", line=None)
for a in (-7, 0, 7):
    for b in (-7, 0, 7):
        circ(1058 + a, 998 + b, 2, fill="white", line=None)
circ(1058, 1055, 13, lw=1.2); text(1058, 1055.5, "?", size=15)

for lab, lx in [("1D", 79), ("5D", 109), ("1M", 140), ("3M", 172), ("6M", 204), ("YTD", 239), ("1Y", 272), ("5Y", 300), ("All", 328)]:
    text(lx, 1061.5, lab, size=13)
poly([(351, 1050), (351, 1072)], color="#e0e3eb")
rect(363, 1054, 379, 1069, fill="white", line=DARK, r=1); poly([(363, 1058), (379, 1058)]); rel(367, 1054, [(0, -2), (0, 1)]); rel(375, 1054, [(0, -2), (0, 1)])
text(924, 1061.5, "12:41:43 UTC+8", size=13)
poly([(986, 1050), (986, 1072)], color="#e0e3eb")
text(1008, 1061.5, "ADJ", size=13)
circ(1000, 1027, 6, lw=1.1); circ(1000, 1027, 2, lw=1.1)

layout["shapes"] = shapes
layout["annotations"] = notes + [tip_box] + tip_lines
fig.update_layout(**layout)
fig.write_html("out.html", config=dict(displayModeBar=False),
               post_script="document.body.style.margin='0';document.body.style.overflow='hidden';")
